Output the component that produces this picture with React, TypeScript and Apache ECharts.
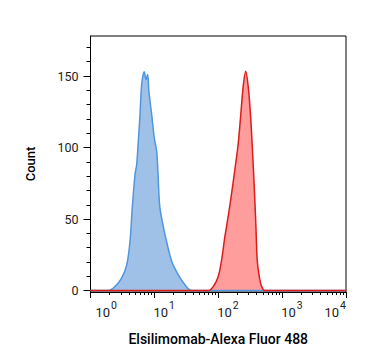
import React, { useEffect, useRef } from "react";
import * as echarts from "echarts";

const xTickExponents = [0, 1, 2, 3, 4];
const xMinorMultipliers = [2, 3, 4, 5, 6, 7, 8, 9];
const yMajorTicks = [0, 50, 100, 150];
const yMinorTicks = [10, 20, 30, 40, 60, 70, 80, 90, 110, 120, 130, 140, 160, 170];

const xAxisTitle = "Elsilimomab-Alexa Fluor 488";
const yAxisTitle = "Count";

// Fluorescence intensity (linear units) and event counts
const blueIntensity = [1, 1.9, 2.42, 3.08, 3.69, 4.15, 4.51, 4.97, 5.28, 5.6, 5.96, 6.32, 6.95, 7.4, 7.85, 8.22, 9.08, 9.95, 10.9, 11.5, 12.2, 14.7, 18.7, 23.7, 30.1, 38.4, 10000];
const blueCount = [0, 0, 2.8, 8.9, 18, 34.3, 57.9, 81, 88, 104.3, 123, 144, 153, 147.5, 151, 139, 123, 107, 97, 77.5, 58, 39, 20.3, 11, 4, 0, 0];

const redIntensity = [1, 69.8, 83.6, 100, 113, 127, 143, 162, 182, 206, 224, 246, 269, 294, 321, 345, 366, 389, 407, 439, 478, 538, 10000];
const redCount = [0, 0, 2.8, 9.8, 21.5, 37.8, 51.8, 68.2, 84.5, 103.2, 121.8, 142.9, 153.4, 142.9, 121.8, 96.2, 72.8, 44.8, 21.5, 9.8, 2.8, 0, 0];

const FONT = "Roboto, 'Noto Sans', sans-serif";

export default function App() {
  const ref = useRef<HTMLDivElement>(null);
  useEffect(() => {
    const chart = echarts.init(ref.current!, null, { renderer: "svg" });
    const toLog = (xs: number[], ys: number[]) => xs.map((x, i) => [Math.log10(x), ys[i]]);
    const minorX: number[] = [];
    xTickExponents.slice(0, -1).forEach((e) =>
      xMinorMultipliers.forEach((m) => minorX.push(e + Math.log10(m)))
    );
    const black = { color: "#000", width: 1 };
    chart.setOption({
      animation: false,
      textStyle: { fontFamily: FONT },
      grid: {
        left: 90.5,
        right: 21,
        top: 36,
        bottom: 72,
        show: true,
        borderColor: "#000",
        borderWidth: 1,
        outerBoundsMode: "none",
      },
      xAxis: [
        {
          type: "value",
          min: 0,
          max: 4,
          position: "bottom",
          name: xAxisTitle,
          nameLocation: "middle",
          nameGap: 40,
          nameTextStyle: { fontSize: 14, fontWeight: 500, color: "#000", fontFamily: FONT },
          axisLine: { onZero: false, lineStyle: black },
          axisTick: { customValues: xTickExponents, length: 6, lineStyle: black },
          axisLabel: {
            customValues: xTickExponents,
            formatter: (v: number) => {
              const n = Math.round(v);
              return n === 0 ? `{b0|10}{s|${n}}` : `{b|10}{s|${n}}`;
            },
            align: "left",
            alignMaxLabel: "right",
            margin: 11,
            rich: {
              b0: { fontSize: 13, color: "#222", fontFamily: FONT, lineHeight: 16, verticalAlign: "bottom", padding: [0, 0, 0, 5] },
              b: { fontSize: 13, color: "#222", fontFamily: FONT, lineHeight: 16, verticalAlign: "bottom", padding: [0, 0, 0, -1] },
              s: { fontSize: 10.5, color: "#222", fontFamily: FONT, lineHeight: 12, verticalAlign: "bottom", padding: [0, 0, 8, 1] },
            },
          },
          splitLine: { show: false },
        },
        {
          type: "value",
          min: 0,
          max: 4,
          position: "bottom",
          axisLine: { show: false, onZero: false },
          axisTick: { customValues: minorX, length: 3, lineStyle: black },
          axisLabel: { show: false },
          splitLine: { show: false },
        },
      ],
      yAxis: [
        {
          type: "value",
          min: -1,
          max: 178,
          position: "left",
          name: yAxisTitle,
          nameLocation: "middle",
          nameGap: 54,
          nameTextStyle: { fontSize: 13, fontWeight: 500, color: "#000", fontFamily: FONT },
          axisLine: { onZero: false, lineStyle: black },
          axisTick: { customValues: yMajorTicks, length: 7, lineStyle: black },
          axisLabel: { customValues: yMajorTicks, fontSize: 12.5, color: "#222", margin: 12, fontFamily: FONT },
          splitLine: { show: false },
        },
        {
          type: "value",
          min: -1,
          max: 178,
          position: "left",
          axisLine: { show: false, onZero: false },
          axisTick: { customValues: yMinorTicks, length: 4, lineStyle: black },
          axisLabel: { show: false },
          splitLine: { show: false },
        },
      ],
      series: [
        {
          type: "line",
          name: "Control",
          xAxisIndex: 0,
          yAxisIndex: 0,
          data: toLog(blueIntensity, blueCount),
          smooth: 0.3,
          symbol: "none",
          lineStyle: { color: "#4f95e0", width: 1.5 },
          areaStyle: { color: "#9fc1e8", opacity: 1 },
        },
        {
          type: "line",
          name: "Sample",
          xAxisIndex: 0,
          yAxisIndex: 0,
          data: toLog(redIntensity, redCount),
          smooth: 0.3,
          symbol: "none",
          lineStyle: { color: "#dc1b1b", width: 1.5 },
          areaStyle: { color: "#ff9c9c", opacity: 1 },
        },
      ],
    });
    return () => chart.dispose();
  }, []);
  return (
    <div
      ref={ref}
      style={{ position: "absolute", left: 0, top: 0, width: 367, height: 364 }}
    />
  );
}
